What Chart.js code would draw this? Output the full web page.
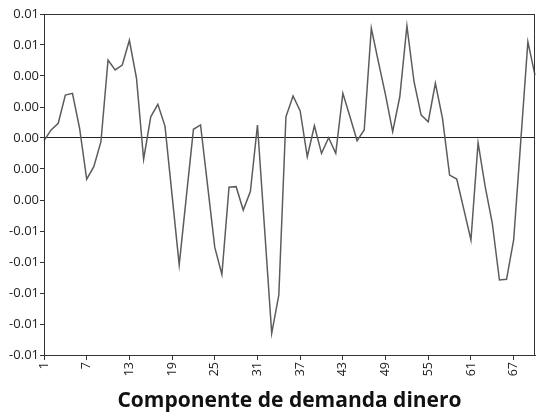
<!DOCTYPE html>
<html>
<head>
<meta charset="utf-8">
<script src="https://cdn.jsdelivr.net/npm/chart.js@4.4.1/dist/chart.umd.min.js"></script>
<style>
  html, body { margin: 0; padding: 0; background: #fff; }
  #wrap { width: 536px; height: 414px; }
</style>
</head>
<body>
<div id="wrap"><canvas id="demandChart" width="536" height="414"></canvas></div>
<script>
// periods 1..70
const periods = Array.from({length: 70}, (_, i) => String(i + 1));

const demandComponent = [
  -0.00017, 0.00052, 0.00095, 0.00277, 0.00288, 0.00063, -0.00266, -0.00185, -0.00024, 0.00503,
  0.00439, 0.00471, 0.00630, 0.00385, -0.00137, 0.00137, 0.00217, 0.00077, -0.00370, -0.00819,
  -0.00380, 0.00056, 0.00084, -0.00310, -0.00706, -0.00881, -0.00318, -0.00314, -0.00465, -0.00346,
  0.00084, -0.00587, -0.01260, -0.01013, 0.00137, 0.00271, 0.00175, -0.00121, 0.00079, -0.00099,
  0.00002, -0.00099, 0.00288, 0.00137, -0.00017, 0.00052, 0.00708, 0.00490, 0.00277, 0.00041,
  0.00266, 0.00723, 0.00363, 0.00148, 0.00105, 0.00353, 0.00127, -0.00239, -0.00265, -0.00460,
  -0.00658, -0.00030, -0.00314, -0.00550, -0.00916, -0.00912, -0.00658, -0.00020, 0.00621, 0.00406
];

const yMin = -0.014;
const yMax = 0.008;
const yStep = 0.002;
const xLabelEvery = 6;

const axisColor = '#333';
const fontFamily = '"Open Sans", "DejaVu Sans", sans-serif';

// outline the top and right sides of the plot
const frame = {
  id: 'frame',
  afterDraw(chart) {
    const {ctx, chartArea: a} = chart;
    ctx.save();
    ctx.strokeStyle = axisColor;
    ctx.lineWidth = 1;
    ctx.strokeRect(Math.round(a.left) + 0.5, Math.round(a.top) + 0.5,
      Math.round(a.right - a.left) - 1, Math.round(a.bottom - a.top));
    ctx.restore();
  }
};

new Chart(document.getElementById('demandChart'), {
  type: 'line',
  data: {
    labels: periods,
    datasets: [{
      data: demandComponent,
      borderColor: '#5c5c5c',
      borderWidth: 1.5,
      pointRadius: 0,
      tension: 0,
      fill: false
    }]
  },
  options: {
    responsive: false,
    animation: false,
    devicePixelRatio: 1,
    layout: { padding: { top: 14, right: 1, left: 0, bottom: 0 } },
    plugins: { legend: { display: false }, tooltip: { enabled: false } },
    scales: {
      x: {
        offset: false,
        afterFit(scale) {
          scale.height = 59;
          // rotated labels would otherwise reserve space at the ends
          scale.paddingLeft = 0;
          scale.paddingRight = 0;
        },
        border: { color: axisColor, width: 1 },
        grid: {
          drawOnChartArea: false,
          tickLength: 5,
          tickColor: (c) => (c.index % xLabelEvery === 0 ? axisColor : 'rgba(0,0,0,0)')
        },
        ticks: {
          autoSkip: false,
          maxRotation: 90,
          minRotation: 90,
          padding: 2,
          color: '#222',
          font: { family: fontFamily, size: 12.5 },
          callback: (v, i) => (i % xLabelEvery === 0 ? periods[i] : '')
        },
        title: {
          display: true,
          text: 'Componente de demanda dinero',
          color: '#111',
          font: { family: fontFamily, size: 21, weight: 'bold' },
          padding: { top: 0, bottom: 0 }
        }
      },
      y: {
        min: yMin,
        max: yMax,
        afterFit(scale) { scale.width = 44; },
        border: { color: axisColor, width: 1 },
        grid: {
          color: (c) => (Math.abs(c.tick.value) < 1e-9 ? '#222' : 'rgba(0,0,0,0)'),
          tickColor: axisColor,
          tickLength: 4,
          lineWidth: 1
        },
        ticks: {
          stepSize: yStep,
          padding: 1,
          color: '#222',
          font: { family: fontFamily, size: 13 },
          callback: (v) => (Math.round(v * 100) / 100 + 0).toFixed(2)
        }
      }
    }
  },
  plugins: [frame]
});
</script>
</body>
</html>
